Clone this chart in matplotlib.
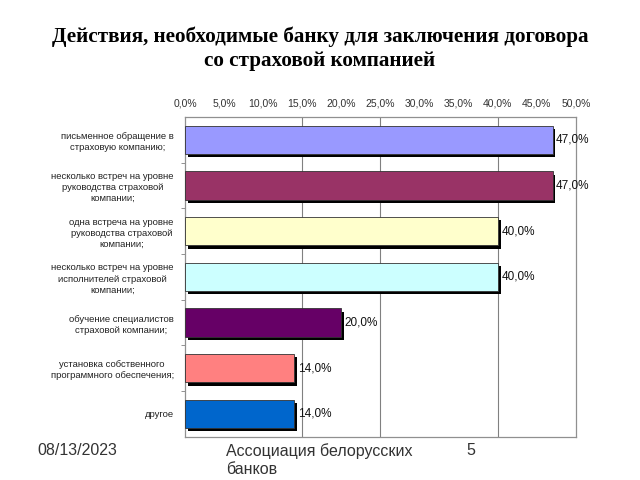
"""Горизонтальная диаграмма: действия банка для заключения договора со страховой компанией."""
import matplotlib
matplotlib.use('Agg')
import matplotlib.pyplot as plt
import matplotlib.patheffects as pe

plt.rcParams['font.family'] = ['Liberation Sans', 'DejaVu Sans']

categories = [
    'письменное обращение в\nстраховую компанию;',
    'несколько встреч на уровне\nруководства страховой\nкомпании;',
    'одна встреча на уровне\nруководства страховой\nкомпании;',
    'несколько встреч на уровне\nисполнителей страховой\nкомпании;',
    'обучение специалистов\nстраховой компании;',
    'установка собственного\nпрограммного обеспечения;',
    'другое',
]
values = [47.0, 47.0, 40.0, 40.0, 20.0, 14.0, 14.0]
colors = ['#9999FF', '#993366', '#FFFFCC', '#CCFFFF', '#660066', '#FF8080', '#0066CC']
x_ticks = [0, 5, 10, 15, 20, 25, 30, 35, 40, 45, 50]
grid_at = [15, 25, 40]

fig = plt.figure(figsize=(6.4, 4.8), dpi=100)
ax = fig.add_axes([0.289, 0.090, 0.611, 0.666])

ypos = list(range(len(values)))
shadow = [pe.SimplePatchShadow(offset=(2, -2.2), shadow_rgbFace='black', alpha=1.0), pe.Normal()]
bars = ax.barh(ypos, values, height=0.62, color=colors, edgecolor='#333333',
               linewidth=0.6, zorder=3)
for b in bars:
    b.set_path_effects(shadow)

for y, v in zip(ypos, values):
    ax.text(v + 0.45, y, f'{v:.1f}%'.replace('.', ','), va='center', ha='left',
            fontsize=8.5, color='#111111', zorder=4)

for g in grid_at:
    ax.axvline(g, color='#808080', linewidth=0.8, zorder=1)

ax.set_xlim(0, 50)
ax.set_ylim(len(values) - 0.5, -0.5)
ax.xaxis.tick_top()
ax.set_xticks(x_ticks)
ax.set_xticklabels([f'{t:.1f}%'.replace('.', ',') for t in x_ticks],
                   fontsize=7.5, color='#333333')
ax.tick_params(axis='x', length=0, pad=6)

ax.set_yticks(ypos)
ax.set_yticklabels(categories, fontsize=6.8, color='#222222',
                   multialignment='center', linespacing=1.3)
ax.tick_params(axis='y', length=0, pad=8)
ax.set_yticks([i + 0.5 for i in ypos[:-1]], minor=True)
ax.tick_params(axis='y', which='minor', length=3, color='#808080')

for s in ax.spines.values():
    s.set_color('#909090')
    s.set_linewidth(0.9)

fig.text(0.5, 0.923, 'Действия, необходимые банку для заключения договора',
         ha='center', va='center', fontsize=15.2, fontweight='bold',
         family='Liberation Serif')
fig.text(0.5, 0.873, 'со страховой компанией', ha='center', va='center',
         fontsize=15.2, fontweight='bold', family='Liberation Serif')

fig.text(0.059, 0.061, '08/13/2023', fontsize=11.5, color='#333333', va='center')
fig.text(0.353, 0.061, 'Ассоциация белорусских', fontsize=11.5, color='#333333', va='center')
fig.text(0.353, 0.021, 'банков', fontsize=11.5, color='#333333', va='center')
fig.text(0.729, 0.061, '5', fontsize=11.5, color='#333333', va='center')

fig.savefig('out.png', dpi=100)
